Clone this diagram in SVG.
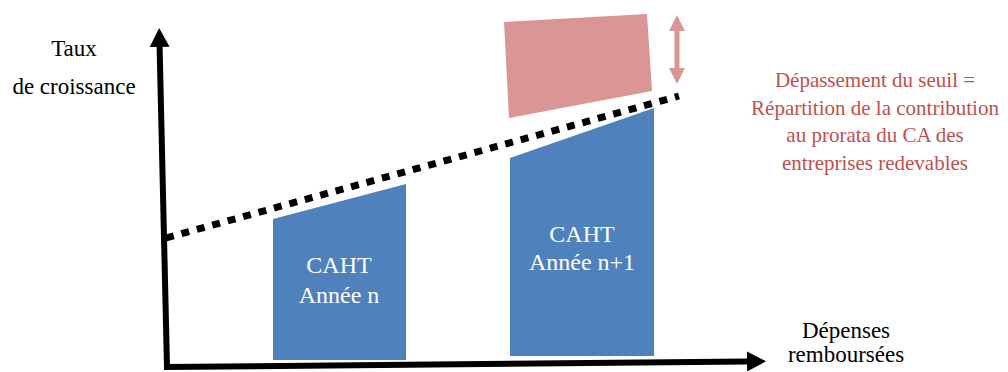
<svg xmlns="http://www.w3.org/2000/svg" width="1008" height="372" viewBox="0 0 1008 372">
<style>
.lbl{font-family:"Liberation Serif","Times New Roman",serif;font-size:23px;fill:#000;text-anchor:middle}
.box{fill:#4F81BD}
.boxtxt{font-family:"Liberation Serif","Times New Roman",serif;font-size:24px;fill:#fff;text-anchor:middle}
.note{font-family:"Liberation Serif","Times New Roman",serif;font-size:21px;fill:#C0504D;text-anchor:middle}
.axis{stroke:#000;stroke-width:6;fill:none}
</style>
<defs>
<marker id="ah" markerUnits="userSpaceOnUse" markerWidth="20" markerHeight="20" refX="0" refY="10" orient="auto" viewBox="0 0 20 20">
<path d="M0,0 L19,10 L0,20 z" fill="#000"/>
</marker>
<marker id="ph" markerUnits="userSpaceOnUse" markerWidth="16" markerHeight="16" refX="1" refY="8" orient="auto-start-reverse" viewBox="0 0 16 16">
<path d="M0,0 L16,8 L0,16 z" fill="#D99694"/>
</marker>
</defs>
<rect width="1008" height="372" fill="#fff"/>
<g id="connectors">
<line class="axis" x1="167" y1="367" x2="159.6" y2="47" marker-end="url(#ah)"/>
<line class="axis" x1="164" y1="367" x2="747" y2="361.5" marker-end="url(#ah)"/>
<line x1="166" y1="238" x2="679" y2="96" stroke="#000" stroke-width="7" stroke-dasharray="8 8"/>
<line x1="677" y1="30" x2="677" y2="69" stroke="#D99694" stroke-width="5" marker-start="url(#ph)" marker-end="url(#ph)"/>
</g>
<g id="y-label">
<text class="lbl" x="74" y="56">Taux</text>
<text class="lbl" x="74" y="94">de croissance</text>
</g>
<g id="x-label">
<text class="lbl" x="846" y="338">Dépenses</text>
<text class="lbl" x="846" y="362">remboursées</text>
</g>
<g id="caht-n">
<polygon class="box" points="273,219 406,184 406,360 273,360"/>
<text class="boxtxt" x="339" y="273">CAHT</text>
<text class="boxtxt" x="339" y="303">Année n</text>
</g>
<g id="caht-n1">
<polygon class="box" points="510,158 654,108 654,356 510,356"/>
<text class="boxtxt" x="582" y="242">CAHT</text>
<text class="boxtxt" x="582" y="270">Année n+1</text>
</g>
<g id="depassement">
<polygon points="504,22 647,14 652,91 509,118" fill="#D99694"/>
</g>
<g id="note">
<text class="note" x="875" y="87">Dépassement du seuil =</text>
<text class="note" x="875" y="114.5">Répartition de la contribution</text>
<text class="note" x="875" y="142">au prorata du CA des</text>
<text class="note" x="875" y="169.5">entreprises redevables</text>
</g>
</svg>
